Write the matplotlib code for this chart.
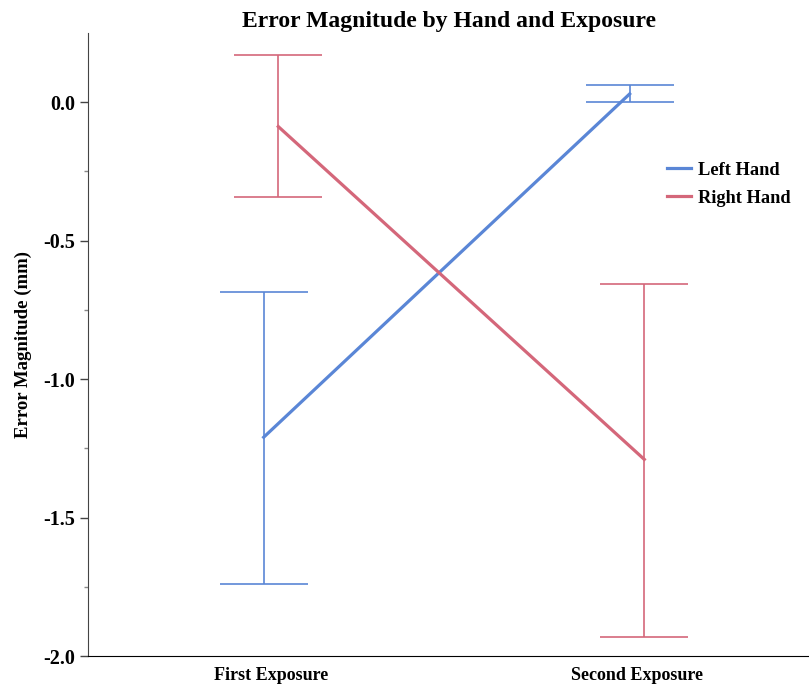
import matplotlib
matplotlib.use("Agg")
import matplotlib.pyplot as plt
import numpy as np

exposures = ["First Exposure", "Second Exposure"]
left_mean = [-1.21, 0.03]
left_low = [-1.74, 0.0]
left_high = [-0.685, 0.063]
right_mean = [-0.088, -1.29]
right_low = [-0.344, -1.93]
right_high = [0.172, -0.655]

blue = "#5a86d6"
red = "#d4677a"

plt.rcParams["font.family"] = ["Liberation Serif", "DejaVu Serif"]
plt.rcParams["font.weight"] = "bold"

fig = plt.figure(figsize=(8.09, 6.87), dpi=100)
ax = fig.add_axes([88/809, 1-656/687, 1-88/809, (656-33)/687])

x = np.arange(len(exposures))
dodge = 0.02
for means, lows, highs, col, off, lab in [
    (left_mean, left_low, left_high, blue, -dodge, "Left Hand"),
    (right_mean, right_low, right_high, red, dodge, "Right Hand"),
]:
    xs = x + off
    m = np.array(means)
    yerr = np.vstack([m - np.array(lows), np.array(highs) - m])
    ax.errorbar(xs, m, yerr=yerr, fmt="none", ecolor=col, elinewidth=1.2,
                capsize=32, capthick=1.2)
    ax.plot(xs, m, color=col, lw=2.3, label=lab)

ax.set_xlim(-0.5, 1.47)
ax.set_ylim(-2.0, 0.25)
ax.set_xticks(x)
ax.set_xticklabels(exposures, fontsize=13, fontweight="bold")
ax.tick_params(axis="x", length=0, pad=8)
ax.set_yticks([0.0, -0.5, -1.0, -1.5, -2.0])
ax.set_yticklabels(["0.0", "-0.5", "-1.0", "-1.5", "-2.0"], fontsize=14.5, fontweight="bold")
ax.set_yticks([-0.25, -0.75, -1.25, -1.75], minor=True)
ax.tick_params(axis="y", which="major", length=6, width=1, color="#444444")
ax.tick_params(axis="y", which="minor", length=3, width=1, color="#888888")
ax.spines["top"].set_visible(False)
ax.spines["right"].set_visible(False)
ax.spines["left"].set_color("#444444")
ax.set_ylabel("Error Magnitude (mm)", fontsize=13.5, fontweight="bold", labelpad=8)
ax.set_title("Error Magnitude by Hand and Exposure", fontsize=17, fontweight="bold", pad=4)

leg = ax.legend(loc="upper left", bbox_to_anchor=(0.78, 0.82), frameon=False,
                fontsize=13.2, handlelength=1.3, handletextpad=0.4, labelspacing=0.6)
for t in leg.get_texts():
    t.set_fontweight("bold")

fig.savefig("out.png", dpi=100)
